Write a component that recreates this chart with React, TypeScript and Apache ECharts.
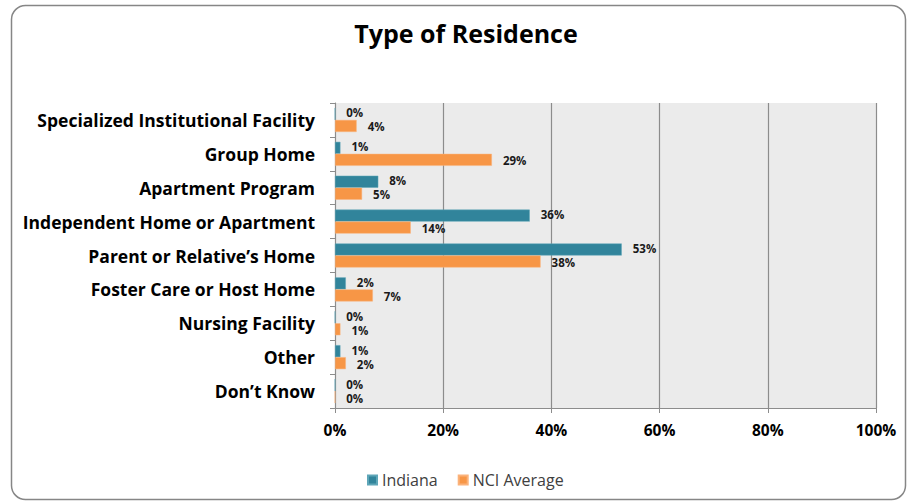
import React, { useEffect, useRef } from "react";
import * as echarts from "echarts";

const categories = [
  "Specialized Institutional Facility",
  "Group Home",
  "Apartment Program",
  "Independent Home or Apartment",
  "Parent or Relative\u2019s Home",
  "Foster Care or Host Home",
  "Nursing Facility",
  "Other",
  "Don\u2019t Know",
];
const indiana = [0, 1, 8, 36, 53, 2, 0, 1, 0];
const nciAverage = [4, 29, 5, 14, 38, 7, 1, 2, 0];
const xTicks = [0, 20, 40, 60, 80, 100];

const FONT = "'Open Sans', 'DejaVu Sans', sans-serif";

export default function App() {
  const ref = useRef<HTMLDivElement>(null);
  useEffect(() => {
    if (!ref.current) return;
    const chart = echarts.init(ref.current, null, { renderer: "svg" });
    const makeLabel = (dy: number) => ({
      show: true,
      position: "right",
      distance: 11,
      offset: [0, dy],
      formatter: "{c}%",
      color: "#1a1a1a",
      fontWeight: "bold",
      fontSize: 11.5,
      lineHeight: 10,
      fontFamily: FONT,
    });
    chart.setOption({
      animation: false,
      backgroundColor: "#ffffff",
      title: {
        text: "Type of Residence",
        left: 461,
        textAlign: "center",
        top: 15,
        textStyle: { fontSize: 25, fontWeight: "bold", color: "#000", fontFamily: FONT },
      },
      graphic: [
        {
          type: "rect",
          shape: { x: 11.5, y: 5.5, width: 894, height: 494, r: 14 },
          style: { fill: "none", stroke: "#868686", lineWidth: 1.5 },
          silent: true,
          z: -1,
        },
      ],
      legend: {
        left: 362,
        top: 467,
        itemWidth: 9,
        itemHeight: 9,
        itemGap: 20,
        icon: "rect",
        textStyle: { fontSize: 16, color: "#404040", fontFamily: FONT },
        data: ["Indiana", "NCI Average"],
      },
      grid: {
        left: 335,
        right: 31,
        top: 103,
        bottom: 94,
        show: true,
        backgroundColor: "#ebebeb",
        borderWidth: 0,
      },
      xAxis: {
        type: "value",
        min: xTicks[0],
        max: xTicks[xTicks.length - 1],
        interval: 20,
        axisLine: { show: true, lineStyle: { color: "#8c8c8c", width: 1 } },
        axisTick: { show: true, length: 5, lineStyle: { color: "#8c8c8c" } },
        axisLabel: {
          formatter: "{value}%",
          margin: 14,
          fontSize: 15.5,
          fontWeight: "bold",
          color: "#000",
          fontFamily: FONT,
        },
        splitLine: { show: true, lineStyle: { color: "#8c8c8c", width: 1.2 } },
      },
      yAxis: {
        type: "category",
        data: categories,
        inverse: true,
        axisLine: { show: true, lineStyle: { color: "#8c8c8c" } },
        axisTick: { show: true, length: 5, lineStyle: { color: "#8c8c8c" } },
        axisLabel: {
          margin: 20,
          fontSize: 17.5,
          fontWeight: "bold",
          color: "#000",
          fontFamily: FONT,
        },
      },
      series: [
        {
          name: "Indiana",
          type: "bar",
          data: indiana,
          barWidth: 12,
          barGap: "0%",
          itemStyle: { color: "#31849b", borderColor: "#5ea6b8", borderWidth: 0.5 },
          label: makeLabel(-1),
        },
        {
          name: "NCI Average",
          type: "bar",
          data: nciAverage,
          barWidth: 12,
          barGap: "0%",
          itemStyle: { color: "#f79646", borderColor: "#fbb27a", borderWidth: 0.5 },
          label: makeLabel(1),
        },
      ],
    });
    return () => chart.dispose();
  }, []);
  return (
    <div
      ref={ref}
      style={{ position: "absolute", left: 0, top: 0, width: 907, height: 502 }}
    />
  );
}
